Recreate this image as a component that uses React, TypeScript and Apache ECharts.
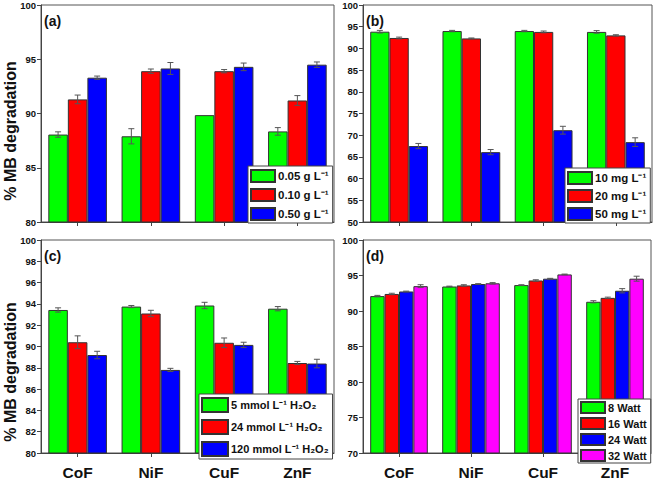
import React, { useEffect, useRef } from "react";
import * as echarts from "echarts";

const FONT = "'Liberation Sans', Arial, Helvetica, sans-serif";

const categories = ["CoF", "NiF", "CuF", "ZnF"];

// Panel (a): catalyst dose
const aNames = ["0.05 g L⁻¹", "0.10 g L⁻¹", "0.50 g L⁻¹"];
const aLow = [88.06, 87.9, 89.85, 88.35];
const aMid = [91.3, 93.9, 93.9, 91.2];
const aHigh = [93.3, 94.15, 94.3, 94.5];
const aLowErr = [0.25, 0.7, 0, 0.35];
const aMidErr = [0.4, 0.2, 0.15, 0.45];
const aHighErr = [0.15, 0.55, 0.35, 0.25];

// Panel (b): dye concentration
const bNames = ["10 mg L⁻¹", "20 mg L⁻¹", "50 mg L⁻¹"];
const b10 = [93.85, 94.0, 94.0, 93.8];
const b20 = [92.4, 92.3, 93.8, 93.0];
const b50 = [67.5, 66.1, 71.15, 68.4];
const b10Err = [0.3, 0.15, 0.15, 0.3];
const b20Err = [0.2, 0.1, 0.2, 0.15];
const b50Err = [0.6, 0.6, 0.9, 1.0];

// Panel (c): H2O2 concentration
const cNames = ["5 mmol L⁻¹ H₂O₂", "24 mmol L⁻¹ H₂O₂", "120 mmol L⁻¹ H₂O₂"];
const c5 = [93.43, 93.75, 93.85, 93.55];
const c24 = [90.4, 93.1, 90.35, 88.45];
const c120 = [89.2, 87.8, 90.15, 88.4];
const c5Err = [0.2, 0.1, 0.3, 0.2];
const c24Err = [0.6, 0.3, 0.45, 0.15];
const c120Err = [0.35, 0.15, 0.25, 0.4];

// Panel (d): lamp power
const dNames = ["8 Watt", "16 Watt", "24 Watt", "32 Watt"];
const d8 = [92.1, 93.45, 93.65, 91.3];
const d16 = [92.4, 93.6, 94.3, 91.85];
const d24 = [92.75, 93.8, 94.55, 92.85];
const d32 = [93.5, 93.9, 95.15, 94.55];
const d8Err = [0.1, 0.05, 0.05, 0.15];
const d16Err = [0.1, 0.1, 0.1, 0.1];
const d24Err = [0.05, 0.05, 0.05, 0.3];
const d32Err = [0.2, 0.1, 0.05, 0.35];

const yMins = [80, 50, 80, 70];
const yMaxs = [100, 100, 100, 100];
const yIntervals = [5, 5, 2, 5];
const panelLabels = ["(a)", "(b)", "(c)", "(d)"];
const yTitle = "% MB degradation";

const COLORS = ["#00ff00", "#ff0000", "#0000ff", "#ff00ff"];

const panels = [
  { names: aNames, values: [aLow, aMid, aHigh], errs: [aLowErr, aMidErr, aHighErr] },
  { names: bNames, values: [b10, b20, b50], errs: [b10Err, b20Err, b50Err] },
  { names: cNames, values: [c5, c24, c120], errs: [c5Err, c24Err, c120Err] },
  { names: dNames, values: [d8, d16, d24, d32], errs: [d8Err, d16Err, d24Err, d32Err] },
];

const GRIDS = [
  { left: 41, top: 5, width: 293, height: 217 },
  { left: 363, top: 5, width: 289, height: 217 },
  { left: 41, top: 240, width: 293, height: 217 },
  { left: 363, top: 240, width: 288, height: 217 },
];

const LEGENDS = [
  { left: 248, top: 166, itemWidth: 24, itemHeight: 12, itemGap: 5, padding: [3, 4, 2, 2], fontSize: 11.5 },
  { left: 565, top: 168, itemWidth: 24, itemHeight: 12, itemGap: 4, padding: [3, 4, 2, 2], fontSize: 11.5 },
  { left: 199, top: 394, itemWidth: 26, itemHeight: 14, itemGap: 6, padding: [3, 4, 2, 2], fontSize: 11 },
  { left: 578, top: 399, itemWidth: 24, itemHeight: 11, itemGap: 3, padding: [2, 4, 1, 2], fontSize: 11 },
];

const GAP = 0.2;

function errSeries(g: number, k: number, n: number, values: number[], errs: number[]) {
  return {
    type: "custom",
    xAxisIndex: g,
    yAxisIndex: g,
    z: 5,
    silent: true,
    data: values.map((v, i) => [i, v, errs[i]]),
    encode: { x: 0, y: 1 },
    renderItem: (params: any, api: any) => {
      const i = api.value(0);
      const v = api.value(1);
      const e = api.value(2);
      if (!e) return { type: "group", children: [] };
      const band = api.size([1, 0])[0];
      const group = band * (1 - GAP);
      const bw = group / n;
      const c = api.coord([i, v]);
      const x = c[0] - group / 2 + (k + 0.5) * bw;
      const yt = api.coord([i, v + e])[1];
      const yb = api.coord([i, v - e])[1];
      const cap = 3;
      const st = { stroke: "#555", lineWidth: 1 };
      return {
        type: "group",
        children: [
          { type: "line", shape: { x1: x, y1: yt, x2: x, y2: yb }, style: st },
          { type: "line", shape: { x1: x - cap, y1: yt, x2: x + cap, y2: yt }, style: st },
          { type: "line", shape: { x1: x - cap, y1: yb, x2: x + cap, y2: yb }, style: st },
        ],
      };
    },
  };
}

export default function App() {
  const ref = useRef<HTMLDivElement>(null);
  useEffect(() => {
    if (!ref.current) return;
    document.body.style.margin = "0";
    const chart = echarts.init(ref.current, undefined, { renderer: "svg" });

    const series: any[] = [];
    panels.forEach((p, g) => {
      const n = p.values.length;
      p.values.forEach((vals, k) => {
        series.push({
          type: "bar",
          name: p.names[k],
          xAxisIndex: g,
          yAxisIndex: g,
          data: vals,
          barGap: "0%",
          barCategoryGap: "20%",
          itemStyle: { color: COLORS[k], borderColor: "#333", borderWidth: 1 },
        });
      });
      p.values.forEach((vals, k) => {
        series.push(errSeries(g, k, n, vals, p.errs[k]));
      });
    });

    const option: any = {
      animation: false,
      backgroundColor: "#fff",
      textStyle: { fontFamily: FONT },
      grid: GRIDS.map((gr) => ({
        ...gr,
        show: true,
        borderColor: "#555",
        borderWidth: 1,
        backgroundColor: "transparent",
      })),
      xAxis: GRIDS.map((_, g) => ({
        type: "category",
        gridIndex: g,
        data: categories,
        axisLine: { lineStyle: { color: "#444", width: 1 } },
        axisTick: { show: true, alignWithLabel: true, length: 4, lineStyle: { color: "#444" } },
        axisLabel: {
          show: g >= 2,
          color: "#111",
          fontSize: 15.5,
          fontWeight: "bold",
          fontFamily: FONT,
          margin: 11,
        },
        splitLine: { show: false },
      })),
      yAxis: GRIDS.map((_, g) => ({
        type: "value",
        gridIndex: g,
        min: yMins[g],
        max: yMaxs[g],
        interval: yIntervals[g],
        axisLine: { show: true, lineStyle: { color: "#444", width: 1 } },
        axisTick: { show: true, length: 4, lineStyle: { color: "#444" } },
        axisLabel: {
          color: "#111",
          fontSize: 9.5,
          fontWeight: "bold",
          fontFamily: FONT,
          margin: 5,
        },
        splitLine: { show: false },
      })),
      legend: panels.map((p, g) => ({
        data: p.names,
        orient: "vertical",
        left: LEGENDS[g].left,
        top: LEGENDS[g].top,
        itemWidth: LEGENDS[g].itemWidth,
        itemHeight: LEGENDS[g].itemHeight,
        itemGap: LEGENDS[g].itemGap,
        padding: LEGENDS[g].padding,
        icon: "rect",
        backgroundColor: "#fff",
        borderColor: "#444",
        borderWidth: 1,
        borderRadius: 0,
        selectedMode: false,
        textStyle: {
          fontSize: LEGENDS[g].fontSize,
          fontWeight: "bold",
          color: "#111",
          fontFamily: FONT,
          padding: [0, 0, 0, -2],
        },
      })),
      graphic: [
        ...GRIDS.map((gr, g) => ({
          type: "text",
          left: gr.left + 3,
          top: gr.top + 9,
          style: {
            text: panelLabels[g],
            font: `bold 14px ${FONT}`,
            fill: "#111",
          },
        })),
        ...[131, 372].map((cy) => ({
          type: "text",
          x: 10,
          y: cy,
          rotation: Math.PI / 2,
          style: {
            text: yTitle,
            font: `bold 16px ${FONT}`,
            fill: "#111",
            textAlign: "center",
            textVerticalAlign: "middle",
            align: "center",
            verticalAlign: "middle",
          },
        })),
      ],
      series,
    };
    chart.setOption(option);
    return () => chart.dispose();
  }, []);
  return <div ref={ref} style={{ width: 656, height: 480 }} />;
}
